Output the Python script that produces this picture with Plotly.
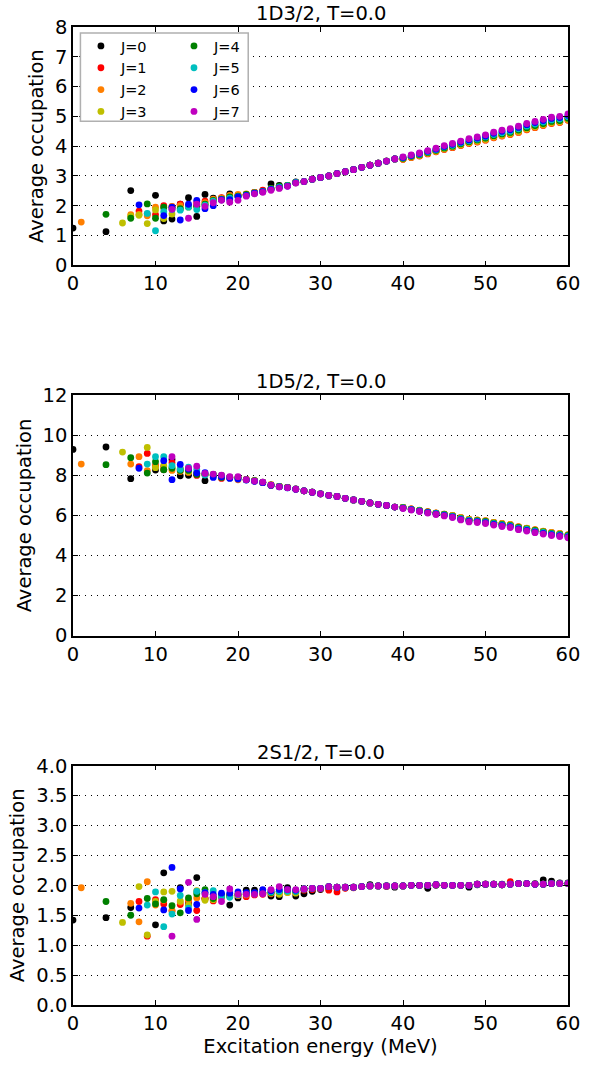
import plotly.graph_objects as go

# ---------------- data ----------------
J_LABELS = ["J=0", "J=1", "J=2", "J=3", "J=4", "J=5", "J=6", "J=7"]
COLORS = ["#000000", "#ff0000", "#ff7f00", "#bfbf00", "#008000", "#00bfbf", "#0000ff", "#bf00bf"]
PANEL_TITLES = ["1D3/2, T=0.0", "1D5/2, T=0.0", "2S1/2, T=0.0"]

# low-energy bins (MeV) per J
LOW_E = [
    [0, 4, 7, 10, 11, 12, 13, 14, 15, 16, 17, 18, 19, 20, 21, 22, 23, 24, 25, 26, 27],
    [8, 9, 10, 11, 12, 13, 14, 15, 16, 17, 18, 19, 20, 21, 22, 23, 24, 25, 26, 27],
    [1, 7, 8, 9, 10, 11, 12, 13, 14, 15, 16, 17, 18, 19, 20, 21, 22, 23, 24, 25, 26, 27],
    [6, 7, 8, 9, 10, 11, 12, 13, 14, 15, 16, 17, 18, 19, 20, 21, 22, 23, 24, 25, 26, 27],
    [4, 7, 9, 10, 11, 12, 13, 14, 15, 16, 17, 18, 19, 20, 21, 22, 23, 24, 25, 26, 27],
    [9, 10, 11, 12, 13, 14, 15, 16, 17, 18, 19, 20, 21, 22, 23, 24, 25, 26, 27],
    [8, 11, 12, 13, 14, 15, 16, 17, 18, 19, 20, 21, 22, 23, 24, 25, 26, 27],
    [12, 14, 15, 16, 17, 18, 19, 20, 21, 22, 23, 24, 25, 26, 27],
]
MID_E = [28, 29, 30, 31, 32, 33, 34, 35, 36, 37, 38, 39]
HIGH_E = [40, 41, 42, 43, 44, 45, 46, 47, 48, 49, 50, 51, 52, 53, 54, 55, 56, 57, 58, 59, 60]

# ---- 1D3/2 ----
d32_low = [
    [1.25, 1.13, 2.51, 2.35, 1.49, 1.55, 2.05, 2.27, 1.64, 2.38, 2.25, 2.25, 2.40, 2.35, 2.38, 2.45, 2.50, 2.73, 2.68, 2.68, 2.80],
    [1.82, 1.72, 1.70, 2.00, 1.97, 2.05, 1.98, 2.10, 2.15, 2.20, 2.27, 2.33, 2.35, 2.38, 2.45, 2.52, 2.55, 2.62, 2.68, 2.78],
    [1.45, 1.70, 1.71, 1.66, 1.95, 1.92, 1.98, 2.00, 2.00, 2.02, 2.10, 2.22, 2.25, 2.35, 2.38, 2.40, 2.45, 2.48, 2.58, 2.62, 2.68, 2.78],
    [1.42, 1.65, 1.68, 1.40, 1.86, 1.57, 1.72, 1.90, 1.95, 1.97, 2.05, 2.15, 2.22, 2.30, 2.32, 2.36, 2.43, 2.48, 2.57, 2.62, 2.68, 2.77],
    [1.71, 1.58, 2.06, 1.58, 1.95, 1.92, 1.90, 1.97, 1.98, 2.05, 2.18, 2.22, 2.30, 2.32, 2.38, 2.43, 2.48, 2.58, 2.66, 2.68, 2.78],
    [1.74, 1.16, 1.80, 1.87, 1.85, 1.95, 1.87, 2.02, 2.15, 2.20, 2.25, 2.30, 2.35, 2.42, 2.47, 2.56, 2.62, 2.67, 2.78],
    [2.03, 1.67, 1.95, 1.52, 2.05, 2.18, 1.90, 2.00, 2.20, 2.20, 2.30, 2.35, 2.42, 2.47, 2.55, 2.60, 2.66, 2.77],
    [1.88, 1.58, 2.05, 1.98, 2.10, 2.18, 2.12, 2.18, 2.32, 2.40, 2.45, 2.52, 2.58, 2.65, 2.76],
]
d32_mid = [2.81, 2.89, 2.95, 3.00, 3.08, 3.14, 3.21, 3.29, 3.36, 3.43, 3.50, 3.57]
d32_high = [
    [3.57, 3.63, 3.69, 3.76, 3.83, 3.91, 3.97, 4.04, 4.11, 4.17, 4.23, 4.31, 4.37, 4.42, 4.49, 4.58, 4.65, 4.72, 4.79, 4.82, 4.95],
    [3.56, 3.62, 3.67, 3.74, 3.81, 3.89, 3.95, 4.02, 4.09, 4.14, 4.20, 4.28, 4.34, 4.39, 4.46, 4.55, 4.62, 4.69, 4.76, 4.79, 4.87],
    [3.56, 3.62, 3.68, 3.75, 3.82, 3.90, 3.96, 4.03, 4.10, 4.15, 4.21, 4.29, 4.35, 4.40, 4.47, 4.56, 4.63, 4.70, 4.77, 4.80, 4.88],
    [3.58, 3.64, 3.70, 3.77, 3.84, 3.92, 3.98, 4.05, 4.12, 4.18, 4.24, 4.32, 4.38, 4.43, 4.50, 4.59, 4.66, 4.73, 4.80, 4.83, 4.91],
    [3.59, 3.66, 3.71, 3.79, 3.86, 3.94, 4.00, 4.08, 4.15, 4.21, 4.27, 4.35, 4.41, 4.46, 4.54, 4.62, 4.69, 4.76, 4.83, 4.86, 4.94],
    [3.61, 3.68, 3.73, 3.81, 3.88, 3.97, 4.03, 4.11, 4.18, 4.24, 4.31, 4.39, 4.45, 4.50, 4.58, 4.67, 4.74, 4.81, 4.88, 4.91, 4.99],
    [3.62, 3.69, 3.75, 3.83, 3.90, 3.99, 4.06, 4.14, 4.21, 4.27, 4.34, 4.43, 4.50, 4.55, 4.63, 4.72, 4.79, 4.86, 4.93, 4.96, 5.04],
    [3.64, 3.71, 3.77, 3.85, 3.93, 4.02, 4.09, 4.17, 4.25, 4.31, 4.38, 4.47, 4.54, 4.59, 4.67, 4.76, 4.83, 4.90, 4.97, 5.00, 5.08],
]

# ---- 1D5/2 ----
d52_low_E = [
    [0, 4, 7, 10, 11, 12, 13, 14, 15, 16, 17, 18, 19, 20, 21, 22, 23, 24, 25, 26, 27],
    [8, 9, 10, 11, 12, 13, 14, 15, 16, 17, 18, 19, 20, 21, 22, 23, 24, 25, 26, 27],
    [1, 7, 8, 9, 10, 11, 12, 13, 14, 15, 16, 17, 18, 19, 20, 21, 22, 23, 24, 25, 26, 27],
    [6, 9, 10, 11, 12, 13, 14, 15, 16, 17, 18, 19, 20, 21, 22, 23, 24, 25, 26, 27],
    [4, 7, 9, 10, 11, 12, 13, 14, 15, 16, 17, 18, 19, 20, 21, 22, 23, 24, 25, 26, 27],
    [9, 10, 11, 12, 13, 14, 15, 16, 17, 18, 19, 20, 21, 22, 23, 24, 25, 26, 27],
    [8, 11, 12, 13, 14, 15, 16, 17, 18, 19, 20, 21, 22, 23, 24, 25, 26, 27],
    [12, 14, 15, 16, 17, 18, 19, 20, 21, 22, 23, 24, 25, 26, 27],
]
d52_low = [
    [9.30, 9.42, 7.84, 8.27, 8.28, 8.80, 7.98, 8.01, 8.10, 7.74, 8.00, 7.92, 7.90, 7.90, 7.79, 7.72, 7.66, 7.50, 7.45, 7.40, 7.33],
    [8.44, 9.10, 8.50, 8.45, 8.64, 8.30, 8.25, 8.00, 8.05, 8.02, 7.85, 7.90, 7.88, 7.80, 7.74, 7.65, 7.52, 7.45, 7.40, 7.32],
    [8.57, 8.57, 8.94, 8.24, 8.45, 8.30, 8.25, 8.20, 8.15, 8.10, 8.05, 8.05, 8.00, 7.87, 7.78, 7.80, 7.74, 7.65, 7.55, 7.45, 7.40, 7.32],
    [9.17, 9.40, 8.39, 8.50, 8.40, 8.35, 8.20, 8.10, 8.05, 8.05, 7.95, 7.90, 7.88, 7.78, 7.74, 7.65, 7.52, 7.45, 7.40, 7.32],
    [8.54, 8.89, 8.12, 8.69, 8.29, 8.36, 8.25, 8.25, 8.05, 8.05, 8.00, 7.90, 7.90, 7.88, 7.79, 7.74, 7.65, 7.52, 7.45, 7.40, 7.32],
    [8.57, 8.94, 8.94, 8.49, 8.31, 8.42, 8.30, 8.02, 8.05, 8.00, 7.92, 7.86, 7.78, 7.72, 7.65, 7.52, 7.44, 7.38, 7.31],
    [8.36, 8.74, 7.79, 8.55, 8.32, 8.12, 8.14, 7.90, 7.93, 7.85, 7.82, 7.77, 7.71, 7.64, 7.51, 7.43, 7.38, 7.31],
    [8.94, 8.37, 8.46, 8.10, 8.07, 8.02, 7.94, 7.94, 7.79, 7.72, 7.67, 7.52, 7.43, 7.39, 7.31],
]
d52_mid = [7.23, 7.16, 7.08, 7.01, 6.95, 6.86, 6.78, 6.71, 6.63, 6.56, 6.50, 6.42]
d52_high = [
    [6.40, 6.32, 6.26, 6.18, 6.12, 6.06, 5.99, 5.88, 5.79, 5.76, 5.72, 5.64, 5.58, 5.53, 5.42, 5.35, 5.27, 5.20, 5.13, 5.08, 5.02],
    [6.40, 6.33, 6.26, 6.19, 6.12, 6.07, 5.99, 5.89, 5.80, 5.77, 5.73, 5.65, 5.59, 5.54, 5.43, 5.36, 5.28, 5.21, 5.14, 5.09, 5.03],
    [6.41, 6.33, 6.27, 6.19, 6.13, 6.07, 6.00, 5.90, 5.81, 5.78, 5.74, 5.66, 5.60, 5.55, 5.44, 5.37, 5.29, 5.22, 5.15, 5.10, 5.04],
    [6.40, 6.32, 6.26, 6.18, 6.12, 6.06, 5.99, 5.88, 5.79, 5.76, 5.72, 5.64, 5.58, 5.53, 5.42, 5.35, 5.27, 5.20, 5.13, 5.08, 5.02],
    [6.39, 6.31, 6.25, 6.17, 6.11, 6.05, 5.97, 5.86, 5.77, 5.74, 5.70, 5.62, 5.56, 5.51, 5.40, 5.33, 5.25, 5.18, 5.11, 5.06, 5.00],
    [6.38, 6.30, 6.24, 6.16, 6.10, 6.03, 5.95, 5.84, 5.75, 5.72, 5.67, 5.59, 5.53, 5.48, 5.37, 5.30, 5.22, 5.15, 5.08, 5.03, 4.97],
    [6.37, 6.29, 6.22, 6.14, 6.08, 6.01, 5.93, 5.81, 5.72, 5.69, 5.64, 5.56, 5.49, 5.44, 5.33, 5.26, 5.18, 5.11, 5.04, 4.99, 4.93],
    [6.35, 6.27, 6.20, 6.12, 6.05, 5.98, 5.90, 5.78, 5.68, 5.65, 5.60, 5.52, 5.45, 5.40, 5.29, 5.22, 5.14, 5.07, 5.00, 4.95, 4.89],
]

# ---- 2S1/2 ----
s12_low_E = [
    [0, 4, 7, 10, 11, 13, 14, 15, 16, 17, 18, 19, 20, 21, 22, 23, 24, 25, 26, 27],
    [8, 9, 10, 11, 12, 13, 14, 15, 16, 17, 18, 19, 20, 21, 22, 23, 24, 25, 26, 27],
    [1, 7, 8, 9, 10, 11, 12, 13, 14, 15, 16, 17, 18, 19, 20, 21, 22, 23, 24, 25, 26, 27],
    [6, 8, 9, 10, 11, 12, 13, 14, 15, 16, 17, 18, 19, 20, 21, 22, 23, 24, 25, 26, 27],
    [4, 7, 9, 10, 11, 12, 13, 14, 15, 16, 17, 18, 19, 20, 21, 22, 23, 24, 25, 26, 27],
    [9, 10, 11, 12, 13, 14, 15, 16, 17, 18, 19, 20, 21, 22, 23, 24, 25, 26, 27],
    [8, 11, 12, 13, 14, 15, 16, 17, 18, 19, 20, 21, 22, 23, 24, 25, 26, 27],
    [12, 14, 15, 16, 17, 18, 19, 20, 21, 22, 23, 24, 25, 26, 27],
]
s12_low = [
    [1.42, 1.46, 1.63, 1.34, 2.21, 1.96, 1.69, 2.13, 1.78, 1.80, 1.84, 1.67, 1.79, 1.92, 1.92, 1.88, 1.82, 1.81, 1.96, 1.82],
    [1.73, 1.15, 1.76, 1.69, 1.57, 1.68, 1.74, 1.58, 1.78, 1.74, 1.80, 1.82, 1.83, 1.81, 1.84, 1.85, 1.86, 1.88, 1.89, 1.88],
    [1.96, 1.70, 1.39, 2.06, 1.67, 1.75, 1.58, 1.72, 1.76, 1.79, 1.77, 1.77, 1.80, 1.84, 1.83, 1.84, 1.86, 1.87, 1.88, 1.87, 1.88, 1.90],
    [1.38, 1.98, 1.17, 1.73, 1.89, 1.90, 1.74, 1.67, 1.91, 1.75, 1.76, 1.80, 1.82, 1.84, 1.85, 1.86, 1.87, 1.87, 1.85, 1.88, 1.87],
    [1.73, 1.50, 1.78, 1.69, 1.76, 1.66, 1.54, 1.79, 1.86, 1.93, 1.78, 1.82, 1.83, 1.85, 1.86, 1.87, 1.88, 1.88, 1.90, 1.91, 1.90],
    [1.67, 1.89, 1.31, 1.52, 1.83, 1.62, 1.90, 1.88, 1.91, 1.81, 1.80, 1.84, 1.86, 1.87, 1.88, 1.89, 1.90, 1.90, 1.90],
    [1.62, 1.59, 2.30, 1.94, 1.58, 1.68, 1.88, 1.85, 1.87, 1.87, 1.89, 1.88, 1.88, 1.93, 1.91, 1.93, 1.93, 1.92],
    [1.15, 2.05, 1.43, 1.85, 1.81, 1.73, 1.94, 1.85, 1.85, 1.85, 1.86, 1.93, 1.98, 1.93, 1.93],
]
TAIL_E = [28, 29, 30, 31, 32, 33, 34, 35, 36, 37, 38, 39, 40, 41, 42, 43, 44,
          45, 46, 47, 48, 49, 50, 51, 52, 53, 54, 55, 56, 57, 58, 59, 60]
s12_tail_common = [1.94, 1.95, 1.95, 1.98, 1.97, 1.97, 1.97, 1.98, 1.99, 1.99, 1.99, 1.99, 1.99,
                   2.00, 2.00, 2.00, 2.01, 2.00, 2.00, 2.00, 2.00, 2.02, 2.02, 2.02, 2.01, 2.02,
                   2.03, 2.03, 2.02, 2.02, 2.03, 2.03, 2.03]
s12_tail_J0 = [1.86, 1.90, 1.93, 1.95, 1.95, 1.96, 1.97, 1.98, 2.01, 1.99, 1.99, 1.97, 1.99,
               2.00, 2.00, 1.95, 2.00, 2.00, 2.00, 2.00, 1.97, 2.01, 2.02, 2.02, 2.02, 2.03,
               2.03, 2.03, 2.03, 2.09, 2.07, 2.04, 2.04]
s12_tail_J1 = [1.92, 1.93, 1.94, 1.92, 1.89, 1.95, 1.96, 1.98, 1.99, 1.99, 1.98, 1.99, 1.99,
               2.00, 2.00, 2.00, 2.01, 2.00, 2.00, 2.00, 2.00, 2.02, 2.02, 2.02, 2.01, 2.06,
               2.03, 2.03, 2.02, 2.02, 2.03, 2.03, 2.03]
s12_tail = [s12_tail_J0, s12_tail_J1] + [s12_tail_common] * 6

# ---------------- figure ----------------
FS = 19.5
fig = go.Figure()

panel_series = []
for j in range(8):
    e1 = LOW_E[j] + MID_E + HIGH_E
    v1 = d32_low[j] + d32_mid + d32_high[j]
    e2 = d52_low_E[j] + MID_E + HIGH_E
    v2 = d52_low[j] + d52_mid + d52_high[j]
    e3 = s12_low_E[j] + TAIL_E
    v3 = s12_low[j] + s12_tail[j]
    panel_series.append([(e1, v1), (e2, v2), (e3, v3)])

axis_ids = [("x", "y"), ("x2", "y2"), ("x3", "y3")]
for p in range(3):
    for j in range(8):
        ex, vy = panel_series[j][p]
        fig.add_trace(go.Scatter(
            x=ex, y=vy, mode="markers",
            marker=dict(color=COLORS[j], size=6.8, line=dict(width=0)),
            name=J_LABELS[j],
            xaxis=axis_ids[p][0], yaxis=axis_ids[p][1],
            showlegend=(p == 0),
            legend=("legend" if j < 4 else "legend2"),
        ))

H_TOP, H_BOT, M_L, M_R = 27, 53, 73, 14
plot_h = 1065 - H_TOP - H_BOT
def dom(top_px, bot_px):
    return [(1065 - H_BOT - bot_px) / plot_h, (1065 - H_BOT - top_px) / plot_h]

common = dict(showline=True, linecolor="black", linewidth=1.5, mirror="allticks",
              ticks="inside", ticklen=5, tickwidth=1, tickcolor="black",
              zeroline=False, tickfont=dict(size=FS, color="black"))
xcommon = dict(common, range=[0, 60], dtick=10, showgrid=False)
ycommon = dict(common, showgrid=True, gridcolor="black", griddash="1px,5px", gridwidth=1,
               title=dict(text="Average occupation", font=dict(size=FS), standoff=6))

leg_top = dom(30, 30)[1]
fig.update_layout(
    width=592, height=1065,
    margin=dict(l=M_L, r=M_R, t=H_TOP, b=H_BOT),
    paper_bgcolor="white", plot_bgcolor="white",
    font=dict(family="DejaVu Sans", size=FS, color="black"),
    xaxis=dict(xcommon, anchor="y", domain=[0, 1]),
    yaxis=dict(ycommon, anchor="x", domain=dom(27, 267), range=[0, 8], dtick=1),
    xaxis2=dict(xcommon, anchor="y2", domain=[0, 1]),
    yaxis2=dict(ycommon, anchor="x2", domain=dom(398, 640), range=[0, 12], dtick=2),
    xaxis3=dict(xcommon, anchor="y3", domain=[0, 1],
                title=dict(text="Excitation energy (MeV)", font=dict(size=FS), standoff=4)),
    yaxis3=dict(ycommon, anchor="x3", domain=dom(771, 1012), range=[0, 4], dtick=0.5,
                tickformat=".1f"),
    legend=dict(x=0.016, y=leg_top, xanchor="left", yanchor="top",
                bgcolor="rgba(0,0,0,0)", borderwidth=0, font=dict(size=14.5),
                traceorder="normal", tracegroupgap=0, itemwidth=30),
    legend2=dict(x=0.204, y=leg_top, xanchor="left", yanchor="top",
                 bgcolor="rgba(0,0,0,0)", borderwidth=0, font=dict(size=14.5),
                 traceorder="normal", tracegroupgap=0, itemwidth=30),
    shapes=[dict(type="rect", xref="x domain", yref="y domain",
                 x0=0.015, x1=0.354, y0=0.604, y1=0.975,
                 line=dict(color="#b0b0b0", width=1.5), fillcolor="white", layer="above")],
)

for p, t in enumerate(PANEL_TITLES):
    xa = "x" if p == 0 else "x%d" % (p + 1)
    ya = "y" if p == 0 else "y%d" % (p + 1)
    fig.add_annotation(text=t, x=0.5, y=1, xref=xa + " domain", yref=ya + " domain",
                       xanchor="center", yanchor="bottom", yshift=0, showarrow=False,
                       font=dict(size=FS, color="black"))

fig.write_html("out.html")
